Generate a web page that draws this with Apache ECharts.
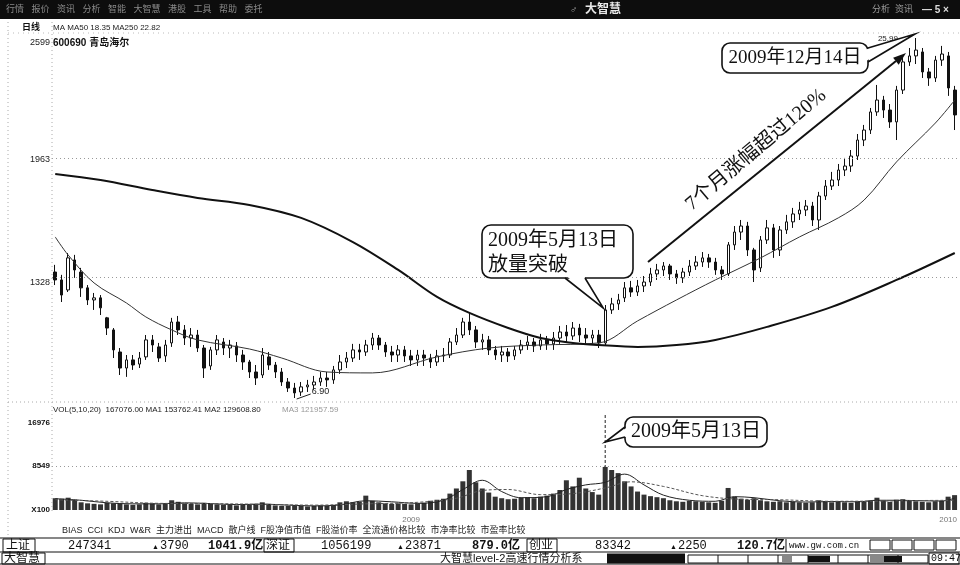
<!DOCTYPE html>
<html><head><meta charset="utf-8">
<script src="https://cdn.jsdelivr.net/npm/echarts@6/dist/echarts.min.js"></script>
<style>html,body{margin:0;padding:0;background:#fff;}#c{width:960px;height:565px;}</style>
</head><body><div id="c"></div>
<script>
// ---------- data ----------
const months = ['2008-05','2008-06','2008-07','2008-08','2008-09','2008-10','2008-11','2008-12',
  '2009-01','2009-02','2009-03','2009-04','2009-05','2009-06','2009-07','2009-08','2009-09','2009-10','2009-11','2009-12','2010-01'];
const monthPoints = [7,7,8,7,7,5,7,7, 6,7,7,7,7,7,8,7,7,5,7,8, 2];

// [open, close, low, high]
const ohlc = [
[13.58,13.16,12.89,13.96],[13.16,12.36,11.99,13.43],[12.63,14.33,12.52,14.59],[14.22,13.69,13.27,14.49],
[13.58,12.74,12.26,13.80],[12.74,12.10,11.83,12.89],[12.10,12.21,11.57,12.47],[12.21,11.68,11.30,12.36],
[11.15,10.61,10.24,11.20],[10.51,9.45,9.02,10.61],[9.34,8.49,8.12,9.55],[8.49,8.92,8.02,9.18],
[8.92,8.65,8.39,9.18],[8.70,9.02,8.49,9.34],[9.08,9.98,8.92,10.24],[9.98,9.71,9.34,10.24],
[9.61,9.02,8.81,9.82],[9.13,9.71,8.81,9.98],[9.82,10.93,9.61,11.15],[10.93,10.51,10.24,11.25],
[10.51,10.08,9.71,10.77],[10.08,10.24,9.61,10.61],[10.24,9.55,9.34,10.51],[9.55,8.49,7.96,9.71],
[8.60,9.45,8.39,9.61],[9.45,9.98,9.18,10.24],[9.87,9.55,9.18,10.08],[9.55,9.71,9.02,9.98],
[9.66,9.18,8.81,9.87],[9.18,8.81,8.39,9.45],[8.81,8.28,7.96,8.92],[8.28,7.96,7.59,8.65],
[8.12,9.18,7.96,9.55],[9.08,8.65,8.39,9.34],[8.65,8.28,7.96,8.81],[8.28,7.75,7.54,8.49],
[7.75,7.43,7.22,7.96],[7.43,7.17,6.90,7.70],[7.22,7.49,7.01,7.75],[7.49,7.59,7.22,7.86],
[7.59,7.75,7.33,8.07],[7.75,7.96,7.54,8.28],[7.96,7.86,7.49,8.28],[7.86,8.39,7.65,8.60],
[8.39,8.81,8.18,9.18],[8.81,9.02,8.49,9.34],[9.02,9.45,8.81,9.77],[9.45,9.34,8.92,9.77],
[9.34,9.71,9.13,9.98],[9.71,10.08,9.45,10.35],[10.08,9.71,9.45,10.24],[9.71,9.34,9.08,9.87],
[9.34,9.18,8.81,9.66],[9.18,9.45,8.81,9.71],[9.45,9.13,8.81,9.66],[9.13,8.92,8.60,9.45],
[8.92,9.18,8.60,9.45],[9.18,9.02,8.60,9.45],[9.02,8.81,8.49,9.24],[8.81,9.13,8.60,9.45],
[9.13,9.18,8.81,9.55],[9.18,9.87,9.02,10.08],[9.87,10.24,9.71,10.61],[10.24,10.93,10.08,11.15],
[10.93,10.51,10.24,11.41],[10.51,9.87,9.55,10.72],[9.87,9.98,9.45,10.30],[9.98,9.45,9.18,10.19],
[9.45,9.18,8.92,9.66],[9.18,9.34,8.81,9.66],[9.34,9.13,8.81,9.55],[9.13,9.45,8.92,9.66],
[9.45,9.71,9.24,9.98],[9.71,9.87,9.45,10.19],[9.87,9.66,9.34,10.08],[9.66,9.98,9.45,10.30],
[9.98,9.77,9.45,10.19],[9.77,10.08,9.45,10.40],[10.08,10.40,9.77,10.72],[10.40,10.19,9.87,10.77],
[10.19,10.61,9.98,10.93],[10.61,10.24,9.87,10.83],[10.24,10.08,9.77,10.61],[10.08,10.24,9.71,10.51],
[10.24,9.82,9.55,10.51],[9.82,11.57,9.66,11.83],[11.57,11.89,11.36,12.21],[11.89,12.10,11.57,12.42],
[12.21,12.74,11.99,13.05],[12.74,12.52,12.26,13.11],[12.52,12.84,12.31,13.16],[12.84,13.05,12.52,13.37],
[13.05,13.48,12.84,13.80],[13.48,13.69,13.16,14.01],[13.69,13.90,13.37,14.11],[13.90,13.48,13.16,14.01],
[13.48,13.27,12.95,13.69],[13.27,13.58,13.00,13.80],[13.58,13.90,13.37,14.22],[13.90,14.11,13.69,14.43],
[14.11,14.33,13.85,14.64],[14.33,14.11,13.80,14.54],[14.11,13.69,13.43,14.33],[13.69,13.48,13.16,13.90],
[13.48,15.02,13.37,15.17],[15.02,15.70,14.75,16.02],[15.70,16.02,15.28,16.34],[16.02,14.75,14.43,16.24],
[14.75,13.69,13.05,14.86],[13.80,15.28,13.58,15.49],[15.28,15.92,15.07,16.34],[15.92,14.75,14.33,16.13],
[14.75,15.81,14.43,16.02],[15.81,16.24,15.60,16.61],[16.24,16.66,15.92,16.98],[16.66,16.87,16.34,17.30],
[16.87,17.08,16.55,17.40],[17.08,16.34,16.02,17.30],[16.34,17.61,15.81,17.83],[17.61,18.14,17.40,18.46],
[18.14,18.46,17.93,18.89],[18.46,18.99,18.14,19.31],[18.99,19.20,18.67,19.63],[19.20,19.73,18.89,20.05],
[19.73,20.58,19.52,20.90],[20.58,21.11,20.26,21.38],[21.11,22.07,20.90,22.28],[22.07,22.70,21.86,23.50],
[22.70,22.17,21.75,22.92],[22.17,21.54,21.22,22.49],[21.54,23.23,20.58,23.45],[23.23,24.72,23.02,24.93],
[24.72,25.04,24.51,25.46],[25.04,25.35,24.61,25.99],[25.25,24.19,23.87,25.46],[24.19,23.87,23.45,24.40],
[23.87,24.82,23.66,25.04],[24.82,25.14,24.51,25.57],[25.04,23.34,22.92,25.25],[23.23,21.91,21.11,23.45]
];

// volume (x100 shares)
const volume = [
2300,2200,2400,2000,1500,1300,1200,1100,1400,1300,1200,1100,1000,1100,1400,1300,1100,1200,1900,1600,
1300,1200,1100,1400,1200,1100,1000,1000,900,1000,1100,1200,1500,1200,900,800,800,900,800,700,
800,900,800,1000,1500,1700,1500,1600,2800,1800,1500,1300,1200,1300,1200,1100,1300,1400,1800,2000,
2200,3200,4200,5600,7800,5400,4200,3400,2600,2300,2100,2200,2400,2500,2300,2600,2800,3200,3900,5800,
4600,6300,4200,3500,3000,8400,7800,7200,5600,4600,3600,3000,2700,2500,2300,1900,1700,1600,1800,1700,
1600,1500,1400,1800,4300,2600,2200,2000,2300,1900,1700,1600,1700,1500,1600,1500,1400,1500,1900,1700,
1500,1600,1500,1400,1700,1600,1800,2400,1800,1600,2000,2100,1800,1700,1600,1500,1700,1800,2600,2900
];

// moving averages: [point index, value]
const ma50 = [[0,15.44],[2,14.48],[6,13.00],[11,11.94],[14,11.20],[18,10.51],[22,9.98],[30,9.50],[35,9.02],
  [42,8.28],[49,8.23],[59,9.08],[67,9.55],[75,9.71],[84,9.82],[90,10.99],[96,12.10],[102,13.16],[109,14.33],
  [115,15.44],[121,16.45],[125,17.40],[130,19.42],[136,21.48],[139,22.70]];
const ma250 = [[0,18.78],[7,18.46],[15,17.93],[22,17.51],[30,17.14],[38,16.45],[46,15.17],[53,13.69],[59,12.26],
  [64,11.41],[70,10.61],[75,10.08],[80,9.82],[84,9.71],[90,9.61],[96,9.71],[102,9.98],[110,10.67],[120,11.73],
  [130,13.16],[139,14.59]];
const volMa1 = [[0,2200],[4,1900],[8,1400],[12,1200],[16,1200],[20,1400],[24,1250],[28,1050],[32,1150],[36,950],
  [40,800],[44,1000],[48,1800],[52,1600],[56,1300],[60,1900],[63,4000],[66,5800],[69,3600],[72,2400],[76,2600],
  [79,4000],[82,4900],[85,5400],[88,7000],[91,4900],[94,2900],[98,1900],[102,1700],[105,2600],[108,2400],
  [112,1800],[116,1550],[120,1650],[124,1600],[127,1900],[130,1900],[134,1800],[137,1750],[139,2300]];
const volMa2 = [[0,2000],[8,1700],[16,1300],[24,1250],[32,1100],[40,950],[48,1200],[56,1500],[62,2300],[66,3800],
  [70,4000],[75,3000],[80,3200],[85,4300],[89,5500],[94,4600],[100,2800],[106,2100],[112,2000],[120,1700],
  [128,1750],[134,1850],[139,1900]];

// tick labels
const priceTicks = [13.28, 19.63, 25.99];
const priceTickLabels = ['1328', '1963', '2599'];
const volTicks = [0, 8549, 16976];
const volTickLabels = ['X100', '8549', '16976'];

const breakoutIdx = 85;   // 2009-05-13
const peakIdx = 133;      // 2009-12-14
const lowIdx = 37;        // 6.90 low

// ---------- chart ----------
const categories = [];
months.forEach((m, k) => { for (let j = 1; j <= monthPoints[k]; j++) categories.push(m + '/' + j); });

const SERIF = '"Liberation Serif","Noto Sans CJK SC",serif';
const SANS = '"Liberation Sans","Noto Sans CJK SC",sans-serif';
const MONO = '"Liberation Mono","Noto Sans CJK SC",monospace';

const chart = echarts.init(document.getElementById('c'));

const priceLabelOffsets = [5, 2, 5];
const priceLineColor = ['#999', '#999', 'rgba(0,0,0,0)'];
const volLineColor = ['rgba(0,0,0,0)', '#999', 'rgba(0,0,0,0)'];

chart.setOption({
  animation: false,
  backgroundColor: '#fff',
  grid: [{left: 52, right: 2, top: 38, height: 360}, {left: 52, right: 2, top: 423, height: 87}],
  xAxis: [
    {type: 'category', data: categories, gridIndex: 0, show: false},
    {type: 'category', data: categories, gridIndex: 1,
      axisLine: {show: false}, axisTick: {show: false}, splitLine: {show: false},
      axisLabel: {interval: 0, margin: 6, fontSize: 8, color: '#777', fontFamily: SANS,
        formatter: v => v.endsWith('-01/1') ? v.slice(0, 4) : ''}}
  ],
  yAxis: [
    {type: 'value', gridIndex: 0, min: 6.90, max: 25.99, show: false},
    {type: 'value', gridIndex: 1, min: 0, max: 16976, show: false}
  ],
  series: [
    {type: 'candlestick', xAxisIndex: 0, yAxisIndex: 0, data: ohlc, barWidth: 3,
      itemStyle: {color: '#fff', color0: '#111', borderColor: '#111', borderColor0: '#111', borderWidth: 1},
      markLine: {silent: true, symbol: ['none', 'none'],
        data: priceTicks.map((v, k) => ({yAxis: v,
          lineStyle: {type: [1, 3], color: priceLineColor[k], width: 1},
          label: {show: true, position: 'start', distance: 2, formatter: priceTickLabels[k],
            fontSize: 9, fontFamily: SANS, color: '#222', offset: [0, priceLabelOffsets[k]]}}))}},
    {type: 'line', xAxisIndex: 0, yAxisIndex: 0, data: ma50, smooth: 0.35, symbol: 'none',
      lineStyle: {color: '#333', width: 1}},
    {type: 'line', xAxisIndex: 0, yAxisIndex: 0, data: ma250, smooth: 0.35, symbol: 'none',
      lineStyle: {color: '#111', width: 2}},
    {type: 'bar', xAxisIndex: 1, yAxisIndex: 1, data: volume, barWidth: 5,
      itemStyle: {color: '#333'},
      markLine: {silent: true, symbol: ['none', 'none'],
        data: volTicks.map((v, k) => ({yAxis: v,
          lineStyle: {type: [1, 3], color: volLineColor[k], width: 1},
          label: {show: true, position: 'start', distance: 2, formatter: volTickLabels[k],
            fontSize: 8, fontWeight: 'bold', fontFamily: SANS, color: '#111'}}))}},
    {type: 'line', xAxisIndex: 1, yAxisIndex: 1, data: volMa1, smooth: 0.35, symbol: 'none',
      lineStyle: {color: '#222', width: 1}},
    {type: 'line', xAxisIndex: 1, yAxisIndex: 1, data: volMa2, smooth: 0.35, symbol: 'none',
      lineStyle: {color: '#555', width: 1, type: [3, 2]}}
  ]
});

// ---------- annotations & frame ----------
const G = [];
function T(x, y, text, o = {}) {
  G.push({type: 'text', x, y, z: o.z || 50, rotation: o.rot || 0, silent: true,
    style: {text, fontSize: o.fs || 9, fontFamily: o.ff || SANS, fontWeight: o.fw || 'normal', fill: o.c || '#111',
      textAlign: o.al || 'left', align: o.al || 'left', textVerticalAlign: 'middle', verticalAlign: 'middle'}});
}
function R(x, y, w, h, o = {}) {
  G.push({type: 'rect', z: o.z || 40, silent: true, shape: {x, y, width: w, height: h, r: o.r || 0},
    style: {fill: o.fill || 'none', stroke: o.stroke || 'none', lineWidth: o.lw || 1}});
}
function L(x1, y1, x2, y2, o = {}) {
  G.push({type: 'line', z: o.z || 40, silent: true, shape: {x1, y1, x2, y2},
    style: {stroke: o.c || '#111', lineWidth: o.lw || 1, lineDash: o.dash || null}});
}
function P(points, o = {}) {
  G.push({type: o.closed ? 'polygon' : 'polyline', z: o.z || 40, silent: true, shape: {points},
    style: {fill: o.fill || 'none', stroke: o.stroke || 'none', lineWidth: o.lw || 1}});
}

// top title bar
R(0, 0, 960, 19, {fill: '#0d0d0d', z: 30});
T(6, 10, '行情   报价   资讯   分析   智能   大智慧   港股   工具   帮助   委托', {fs: 9, c: '#8a8a8a'});
T(570, 10, '♂', {fs: 10, c: '#aaa'});
T(585, 10, '大智慧', {fs: 12, fw: 'bold', c: '#e8e8e8'});
T(872, 10, '分析  资讯', {fs: 9, c: '#9a9a9a'});
T(922, 10, '— 5 ×', {fs: 10, fw: 'bold', c: '#ddd'});

// frame dotted lines
L(8, 22, 8, 535, {c: '#aaa', dash: [1, 3]});
L(52, 22, 52, 514, {c: '#aaa', dash: [1, 3]});
L(8, 33, 960, 33, {c: '#bbb', dash: [1, 4]});
L(8, 402, 960, 402, {c: '#aaa', dash: [1, 3]});

// header texts
T(22, 28, '日线', {fs: 9, fw: 'bold'});
T(53, 28, 'MA MA50 18.35 MA250 22.82', {fs: 8, c: '#222'});
T(53, 43, '600690 青岛海尔', {fs: 10, fw: 'bold'});
T(53, 410, 'VOL(5,10,20)  167076.00 MA1 153762.41 MA2 129608.80', {fs: 8, c: '#222'});
T(282, 410, 'MA3 121957.59', {fs: 8, c: '#999'});
T(62, 531, 'BIAS  CCI  KDJ  W&R  主力进出  MACD  散户线  F股净值市值  F股溢价率  全流通价格比较  市净率比较  市盈率比较', {fs: 9, c: '#222'});

// status bar
L(0, 538, 960, 538, {c: '#111', lw: 1.2});
L(0, 552, 960, 552, {c: '#111', lw: 1});
L(0, 564, 960, 564, {c: '#111', lw: 1});
R(3, 539, 32, 13, {stroke: '#111'}); T(6, 545.5, '上证', {fs: 12, ff: SANS});
T(68, 545.5, '247341', {fs: 12, ff: MONO});
T(152, 547, '▲', {fs: 7}); T(160, 545.5, '3790', {fs: 12, ff: MONO});
T(208, 545.5, '1041.9亿', {fs: 12, ff: MONO, fw: 'bold'});
R(264, 539, 30, 13, {stroke: '#111'}); T(266, 545.5, '深证', {fs: 12, ff: SANS});
T(321, 545.5, '1056199', {fs: 12, ff: MONO});
T(397, 547, '▲', {fs: 7}); T(405, 545.5, '23871', {fs: 12, ff: MONO});
T(472, 545.5, '879.0亿', {fs: 12, ff: MONO, fw: 'bold'});
R(527, 539, 30, 13, {stroke: '#111'}); T(529, 545.5, '创业', {fs: 12, ff: SANS});
T(595, 545.5, '83342', {fs: 12, ff: MONO});
T(670, 547, '▲', {fs: 7}); T(678, 545.5, '2250', {fs: 12, ff: MONO});
T(737, 545.5, '120.7亿', {fs: 12, ff: MONO, fw: 'bold'});
L(786, 539, 786, 552, {c: '#111'});
T(789, 545.5, 'www.gw.com.cn', {fs: 9, ff: MONO});
R(870, 540, 20, 10, {stroke: '#111'}); R(892, 540, 20, 10, {stroke: '#111'}); R(914, 540, 20, 10, {stroke: '#111'}); R(936, 540, 20, 10, {stroke: '#111'});
R(2, 553, 43, 11, {stroke: '#111'}); T(4, 558.5, '大智慧', {fs: 12, ff: SANS});
T(440, 558.5, '大智慧level-2高速行情分析系', {fs: 11, ff: SANS});
R(607, 553.5, 78, 10, {fill: '#111'});
R(688, 555, 240, 8, {stroke: '#111'});
[718, 748, 778, 808, 838, 868, 898].forEach(x => L(x, 555, x, 563, {c: '#111'}));
R(782, 556, 10, 6, {fill: '#888'}); R(808, 556, 22, 6, {fill: '#111'});
R(870, 556, 14, 6, {fill: '#888'}); R(884, 556, 18, 6, {fill: '#111'});
R(929, 553, 30, 11, {stroke: '#111'}); T(931, 558.5, '09:47', {fs: 10, ff: MONO});

// data-anchored annotation points
const px = (i, v) => chart.convertToPixel({xAxisIndex: 0, yAxisIndex: 0}, [i, v]);
const vx = (i, v) => chart.convertToPixel({xAxisIndex: 1, yAxisIndex: 1}, [i, v]);
const bo = px(breakoutIdx, ohlc[breakoutIdx][3]);
const pk = px(peakIdx, ohlc[peakIdx][3]);
const lw = px(lowIdx, ohlc[lowIdx][2]);
const bv = vx(breakoutIdx, volume[breakoutIdx]);

// peak / low labels
T(pk[0] - 18, pk[1] + 1, '25.99', {fs: 8, c: '#222', al: 'right'});
L(lw[0] + 2, lw[1] + 1, lw[0] + 16, lw[1] - 4, {c: '#222'});
T(lw[0] + 17, lw[1] - 6, '6.90', {fs: 9, c: '#222'});

const AF = {fs: 20, ff: SERIF, z: 63, c: '#111'};
// callout 1: breakout
const t1 = [bo[0] - 2, bo[1] + 3];
R(482, 225, 151, 53, {r: 9, fill: '#fff', stroke: '#111', lw: 1.6, z: 60});
P([[566.5, 276], t1, [584, 276]], {closed: true, fill: '#fff', z: 61});
P([[565, 278], t1, [585, 278]], {stroke: '#111', lw: 1.6, z: 62});
T(488, 241, '2009年5月13日', AF);
T(488, 266, '放量突破', AF);

// callout 2: peak
const t2 = [pk[0] - 1, pk[1] - 4];
R(722, 43, 146, 30, {r: 8, fill: '#fff', stroke: '#111', lw: 1.6, z: 60});
P([[866, 49.5], t2, [866, 61]], {closed: true, fill: '#fff', z: 61});
P([[868, 48], t2, [868, 62]], {stroke: '#111', lw: 1.6, z: 62});
T(795, 58.5, '2009年12月14日', Object.assign({}, AF, {fs: 19, al: 'center'}));

// rise arrow and text
L(648, 262, 896, 61, {c: '#111', lw: 2, z: 55});
P([[906, 53], [898.7, 64.7], [893.1, 57.7]], {closed: true, fill: '#111', z: 55});
T(756, 150, '7个月涨幅超过120%', Object.assign({}, AF, {al: 'center', rot: 0.70}));

// callout 3: volume
L(bv[0], 415, bv[0], bv[1], {c: '#222', dash: [3, 2], z: 45});
const t3 = [bv[0], 442];
R(625, 417, 142, 30, {r: 8, fill: '#fff', stroke: '#111', lw: 1.6, z: 60});
P([[627, 427.5], t3, [627, 436.5]], {closed: true, fill: '#fff', z: 61});
P([[625, 427], t3, [625, 437]], {stroke: '#111', lw: 1.6, z: 62});
T(696, 432, '2009年5月13日', Object.assign({}, AF, {al: 'center'}));

chart.setOption({graphic: {elements: G}});
</script>
</body></html>
